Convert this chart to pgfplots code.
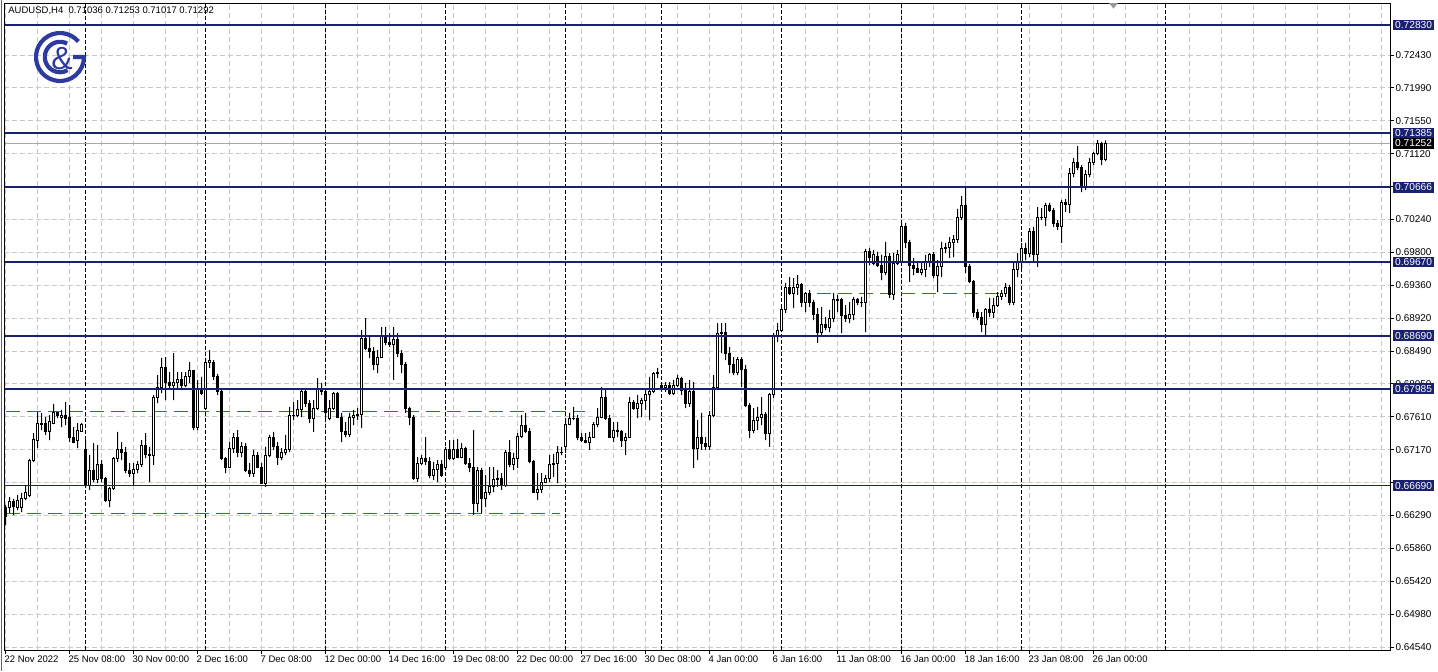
\documentclass[border=0pt]{standalone}
\usepackage{pgfplots}
\pgfplotsset{compat=1.18}
\usepackage{pgfplotstable}
\usepackage{fontspec}
\setmainfont{Liberation Sans}
\definecolor{navy}{RGB}{25,33,112}
\definecolor{gridgray}{RGB}{200,200,200}
\definecolor{lvlgreen}{RGB}{55,125,25}
\definecolor{logoblue}{RGB}{45,58,160}
\newcommand{\tk}{\fontsize{4.75pt}{5.6pt}\selectfont}
\newcommand{\tky}{\fontsize{4.95pt}{5.8pt}\selectfont}
\tikzset{lbl/.style={anchor=west,fill=navy,text=white,font=\fontsize{5.1pt}{6pt}\selectfont,inner xsep=0.9pt,inner ysep=0pt,minimum height=5.2pt,xshift=1.5pt}}

\pgfplotstableread{
i o h l c
0 0.66406 0.66433 0.66166 0.66286
1 0.66393 0.66539 0.66326 0.66486
2 0.66486 0.66513 0.66299 0.66419
3 0.66406 0.66566 0.66366 0.66499
4 0.66393 0.66593 0.66339 0.66526
5 0.66526 0.66686 0.66499 0.66593
6 0.66566 0.67046 0.66539 0.67032
7 0.67032 0.67392 0.67006 0.67312
8 0.67299 0.67672 0.67192 0.67525
9 0.67512 0.67659 0.67432 0.67525
10 0.67525 0.67605 0.67366 0.67406
11 0.67406 0.67632 0.67299 0.67552
12 0.67525 0.67779 0.67512 0.67659
13 0.67659 0.67672 0.67592 0.67619
14 0.67605 0.67699 0.67472 0.67632
15 0.67632 0.67805 0.67499 0.67592
16 0.67605 0.67765 0.67272 0.67339
17 0.67339 0.67472 0.67259 0.67272
18 0.67299 0.67525 0.67192 0.67432
19 0.67419 0.67525 0.67406 0.67512
20 0.67179 0.67299 0.66659 0.66699
21 0.66699 0.67099 0.66633 0.66899
22 0.66899 0.67259 0.66739 0.66766
23 0.66766 0.67232 0.66726 0.66979
24 0.66979 0.67032 0.66739 0.66792
25 0.66792 0.66806 0.66473 0.66499
26 0.66499 0.66673 0.66406 0.66659
27 0.66659 0.67072 0.66633 0.67046
28 0.67046 0.67406 0.67006 0.67166
29 0.67166 0.67272 0.67032 0.67139
30 0.67139 0.67206 0.66859 0.66886
31 0.66886 0.66992 0.66806 0.66859
32 0.66859 0.66992 0.66699 0.66912
33 0.66912 0.67019 0.66859 0.66966
34 0.66966 0.67299 0.66939 0.67232
35 0.67232 0.67392 0.67059 0.67112
36 0.67112 0.67206 0.66739 0.67086
37 0.67086 0.67899 0.66966 0.67872
38 0.67872 0.68165 0.67792 0.68005
39 0.68005 0.68392 0.67925 0.68259
40 0.68259 0.68405 0.67832 0.68059
41 0.68059 0.68205 0.67992 0.68019
42 0.68019 0.68458 0.67832 0.68072
43 0.68072 0.68205 0.67992 0.68112
44 0.68112 0.68205 0.67965 0.68032
45 0.68032 0.68205 0.68005 0.68139
46 0.68139 0.68338 0.68059 0.68219
47 0.68219 0.68232 0.67432 0.67472
48 0.67472 0.68099 0.67432 0.67992
49 0.67992 0.68139 0.67899 0.67925
50 0.67725 0.68392 0.67699 0.68338
51 0.68338 0.68498 0.68259 0.68352
52 0.68338 0.68365 0.68099 0.68152
53 0.68152 0.68179 0.67899 0.67939
54 0.67939 0.67965 0.67032 0.67046
55 0.67046 0.67072 0.66859 0.66939
56 0.66939 0.67272 0.66926 0.67192
57 0.67192 0.67392 0.67126 0.67339
58 0.67339 0.67432 0.67072 0.67126
59 0.67126 0.67272 0.67072 0.67206
60 0.67206 0.67259 0.66872 0.66899
61 0.66899 0.66992 0.66806 0.66846
62 0.66846 0.67166 0.66806 0.67099
63 0.67099 0.67139 0.66926 0.66939
64 0.66939 0.66992 0.66713 0.66726
65 0.66726 0.67206 0.66673 0.67099
66 0.67099 0.67366 0.67072 0.67326
67 0.67326 0.67406 0.67166 0.67206
68 0.67206 0.67272 0.66966 0.67072
69 0.67072 0.67192 0.67032 0.67126
70 0.67126 0.67366 0.67099 0.67166
71 0.67166 0.67739 0.67139 0.67619
72 0.67619 0.67805 0.67565 0.67632
73 0.67632 0.67832 0.67605 0.67699
74 0.67699 0.67992 0.67605 0.67952
75 0.67952 0.67992 0.67739 0.67792
76 0.67792 0.67832 0.67525 0.67592
77 0.67592 0.67832 0.67406 0.67725
78 0.67725 0.68125 0.67699 0.67992
79 0.67992 0.68059 0.67899 0.67939
80 0.67939 0.67992 0.67592 0.67672
81 0.67592 0.67832 0.67565 0.67725
82 0.67725 0.67939 0.67699 0.67925
83 0.67925 0.67939 0.67592 0.67605
84 0.67605 0.67659 0.67272 0.67406
85 0.67406 0.67539 0.67339 0.67379
86 0.67379 0.67659 0.67339 0.67605
87 0.67605 0.67699 0.67499 0.67632
88 0.67632 0.67725 0.67565 0.67645
89 0.67645 0.68765 0.67459 0.68658
90 0.68658 0.68925 0.68498 0.68525
91 0.68525 0.68672 0.68392 0.68472
92 0.68472 0.68538 0.68232 0.68299
93 0.68299 0.68498 0.68192 0.68405
94 0.68405 0.68805 0.68392 0.68672
95 0.68672 0.68805 0.68565 0.68592
96 0.68592 0.68725 0.68538 0.68578
97 0.68578 0.68805 0.68099 0.68632
98 0.68632 0.68725 0.68405 0.68458
99 0.68458 0.68498 0.68192 0.68299
100 0.68299 0.68338 0.67659 0.67725
101 0.67725 0.67739 0.67499 0.67605
102 0.67605 0.67632 0.66766 0.66792
103 0.66792 0.67072 0.66739 0.66992
104 0.66992 0.67099 0.66966 0.67059
105 0.67059 0.67339 0.66966 0.67006
106 0.67006 0.67072 0.66792 0.66832
107 0.66832 0.67006 0.66766 0.66912
108 0.66912 0.67032 0.66739 0.66979
109 0.66979 0.67032 0.66806 0.66832
110 0.66926 0.67206 0.66899 0.67166
111 0.67166 0.67299 0.67032 0.67059
112 0.67059 0.67299 0.67032 0.67166
113 0.67166 0.67312 0.67059 0.67072
114 0.67072 0.67259 0.67059 0.67192
115 0.67192 0.67206 0.66966 0.66992
116 0.66992 0.67059 0.66872 0.66926
117 0.66926 0.67432 0.66299 0.66459
118 0.66459 0.66939 0.66339 0.66899
119 0.66899 0.66926 0.66326 0.66513
120 0.66513 0.66832 0.66406 0.66606
121 0.66606 0.66939 0.66566 0.66673
122 0.66673 0.66939 0.66606 0.66766
123 0.66766 0.66899 0.66673 0.66792
124 0.66792 0.66859 0.66633 0.66699
125 0.66699 0.67166 0.66673 0.67126
126 0.67126 0.67299 0.66939 0.66966
127 0.66966 0.67126 0.66899 0.67059
128 0.67059 0.67392 0.66926 0.67352
129 0.67352 0.67632 0.67326 0.67499
130 0.67499 0.67659 0.67392 0.67419
131 0.67419 0.67459 0.66992 0.67006
132 0.67006 0.67032 0.66593 0.66606
133 0.66606 0.66859 0.66499 0.66646
134 0.66646 0.66859 0.66593 0.66739
135 0.66739 0.66832 0.66726 0.66792
136 0.66792 0.67099 0.66739 0.66966
137 0.66966 0.67112 0.66806 0.66992
138 0.66992 0.67219 0.66726 0.67126
139 0.67126 0.67206 0.67099 0.67139
140 0.67206 0.67592 0.67126 0.67512
141 0.67512 0.67659 0.67499 0.67592
142 0.67592 0.67739 0.67565 0.67579
143 0.67592 0.67632 0.67299 0.67339
144 0.67339 0.67392 0.67272 0.67286
145 0.67299 0.67392 0.67259 0.67272
146 0.67272 0.67406 0.67166 0.67339
147 0.67339 0.67539 0.67326 0.67512
148 0.67512 0.67725 0.67472 0.67605
149 0.67605 0.68005 0.67592 0.67859
150 0.67859 0.67992 0.67565 0.67592
151 0.67592 0.67632 0.67326 0.67339
152 0.67339 0.67539 0.67272 0.67432
153 0.67432 0.67539 0.67339 0.67406
154 0.67406 0.67432 0.67206 0.67299
155 0.67299 0.67392 0.67099 0.67339
156 0.67339 0.67872 0.67326 0.67805
157 0.67805 0.67832 0.67699 0.67725
158 0.67725 0.67899 0.67592 0.67779
159 0.67779 0.67859 0.67605 0.67832
160 0.67832 0.67992 0.67699 0.67899
161 0.67899 0.68139 0.67565 0.67939
162 0.67939 0.68205 0.67925 0.68179
163 0.68205 0.68259 0.68125 0.68179
164 0.68032 0.68072 0.67965 0.68005
165 0.68005 0.68072 0.67939 0.68019
166 0.68019 0.68072 0.67899 0.67925
167 0.67925 0.68099 0.67899 0.68019
168 0.68019 0.68165 0.68005 0.68125
169 0.68125 0.68139 0.67899 0.67965
170 0.67965 0.68059 0.67725 0.67792
171 0.67792 0.68099 0.67739 0.67939
172 0.67939 0.68072 0.66926 0.67192
173 0.67192 0.67565 0.67032 0.67326
174 0.67326 0.67659 0.67166 0.67259
175 0.67259 0.67339 0.67166 0.67206
176 0.67206 0.67685 0.67166 0.67632
177 0.67632 0.68165 0.67605 0.68005
178 0.68005 0.68858 0.67992 0.68725
179 0.68725 0.68858 0.68458 0.68738
180 0.68738 0.68858 0.68365 0.68458
181 0.68458 0.68538 0.68192 0.68299
182 0.68299 0.68405 0.68165 0.68205
183 0.68205 0.68405 0.68165 0.68378
184 0.68378 0.68405 0.68005 0.68245
185 0.68245 0.68299 0.67739 0.67765
186 0.67765 0.67792 0.67326 0.67432
187 0.67432 0.67725 0.67392 0.67565
188 0.67565 0.67739 0.67432 0.67605
189 0.67605 0.67872 0.67499 0.67645
190 0.67645 0.67672 0.67299 0.67392
191 0.67392 0.67925 0.67206 0.67899
192 0.67899 0.68725 0.67859 0.68698
193 0.68698 0.68858 0.68605 0.68765
194 0.68765 0.69058 0.68738 0.69045
195 0.69045 0.69391 0.68992 0.69338
196 0.69338 0.69471 0.69232 0.69258
197 0.69258 0.69458 0.69058 0.69325
198 0.69325 0.69498 0.69232 0.69365
199 0.69365 0.69391 0.69072 0.69125
200 0.69125 0.69271 0.69005 0.69258
201 0.69258 0.69298 0.69072 0.69125
202 0.69125 0.69165 0.68898 0.68978
203 0.68978 0.69058 0.68592 0.68738
204 0.68738 0.69072 0.68698 0.68845
205 0.68845 0.68938 0.68765 0.68792
206 0.68792 0.69032 0.68738 0.68912
207 0.68912 0.69258 0.68872 0.69165
208 0.69152 0.69232 0.69005 0.69165
209 0.69165 0.69192 0.68725 0.68965
210 0.68965 0.69098 0.68872 0.68925
211 0.68925 0.69138 0.68858 0.68978
212 0.68978 0.69205 0.68898 0.69165
213 0.69165 0.69192 0.69098 0.69138
214 0.69138 0.69205 0.69072 0.69125
215 0.69125 0.69845 0.68738 0.69805
216 0.69805 0.69858 0.69631 0.69738
217 0.69658 0.69831 0.69631 0.69765
218 0.69751 0.69805 0.69605 0.69631
219 0.69631 0.69765 0.69431 0.69525
220 0.69525 0.69938 0.69498 0.69751
221 0.69751 0.69791 0.69192 0.69232
222 0.69232 0.69791 0.69165 0.69658
223 0.69658 0.69831 0.69631 0.69765
224 0.69671 0.70191 0.69658 0.70151
225 0.70151 0.70191 0.69858 0.69925
226 0.69925 0.69965 0.69405 0.69631
227 0.69631 0.69725 0.69498 0.69591
228 0.69591 0.69658 0.69525 0.69538
229 0.69538 0.69658 0.69498 0.69565
230 0.69565 0.69765 0.69471 0.69671
231 0.69671 0.69791 0.69605 0.69765
232 0.69765 0.69805 0.69458 0.69498
233 0.69498 0.69698 0.69271 0.69605
234 0.69605 0.69938 0.69471 0.69858
235 0.69858 0.69925 0.69791 0.69871
236 0.69871 0.70004 0.69725 0.69925
237 0.69925 0.70031 0.69738 0.69965
238 0.69965 0.70378 0.69925 0.70258
239 0.70258 0.70551 0.70231 0.70431
240 0.70431 0.70658 0.69525 0.69605
241 0.69605 0.69645 0.69391 0.69405
242 0.69405 0.69431 0.68938 0.68992
243 0.68992 0.69045 0.68898 0.68938
244 0.68938 0.69005 0.68738 0.68832
245 0.68832 0.69058 0.68698 0.69032
246 0.69032 0.69192 0.68938 0.68992
247 0.68992 0.69192 0.68925 0.69098
248 0.69098 0.69271 0.69072 0.69205
249 0.69205 0.69298 0.69165 0.69258
250 0.69258 0.69391 0.69205 0.69325
251 0.69325 0.69365 0.69098 0.69125
252 0.69125 0.69671 0.69098 0.69578
253 0.69578 0.69791 0.69471 0.69671
254 0.69671 0.69925 0.69591 0.69858
255 0.69858 0.69925 0.69698 0.69791
256 0.69791 0.70124 0.69738 0.70084
257 0.70084 0.70138 0.69671 0.69765
258 0.69765 0.70404 0.69605 0.70258
259 0.70258 0.70391 0.70231 0.70271
260 0.70271 0.70458 0.70151 0.70431
261 0.70431 0.70458 0.70338 0.70364
262 0.70364 0.70391 0.70138 0.70178
263 0.70178 0.70231 0.70098 0.70151
264 0.70151 0.70498 0.69925 0.70458
265 0.70458 0.70511 0.70338 0.70444
266 0.70444 0.70924 0.70324 0.70857
267 0.70857 0.71057 0.70804 0.71004
268 0.71004 0.71217 0.70897 0.70937
269 0.70937 0.70964 0.70604 0.70671
270 0.70671 0.70897 0.70631 0.70831
271 0.70831 0.71057 0.70804 0.70991
272 0.70991 0.71137 0.70964 0.71124
273 0.71124 0.71297 0.71097 0.71257
274 0.71257 0.71271 0.70964 0.71031
275 0.71036 0.71292 0.71017 0.71252
}\candles

\pgfplotsset{base/.style={at={(2pt,-1.5pt)},anchor=north west,scale only axis,
  width=693pt,height=323.5pt,xmin=-0.425,xmax=346.075,ymin=0.645,ymax=0.731232}}

\begin{document}
\begin{tikzpicture}
\path[use as bounding box] (0,0) rectangle (719pt,-335.5pt);
% background: grid, ticks, labels, separators, dashed levels
\begin{axis}[base, axis line style={draw=none},
  tick align=outside, major tick length=2pt, minor tick length=0pt,
  tick style={black,line width=0.5pt},
  xtick pos=left, ytick pos=right, yticklabel pos=right,
  xtick={0,16,...,272},
  xticklabels={22 Nov 2022,25 Nov 08:00,30 Nov 00:00,2 Dec 16:00,7 Dec 08:00,12 Dec 00:00,14 Dec 16:00,19 Dec 08:00,22 Dec 00:00,27 Dec 16:00,30 Dec 08:00,4 Jan 00:00,6 Jan 16:00,11 Jan 08:00,16 Jan 00:00,18 Jan 16:00,23 Jan 08:00,26 Jan 00:00},
  minor xtick={8,24,40,56,72,88,104,120,136,152,168,184,200,216,232,248,264,280,288,296,304,312,320,328,336,344},
  ytick={0.6454,0.649783,0.654167,0.65855,0.662933,0.667317,0.6717,0.676083,0.680467,0.68485,0.689233,0.693617,0.698,0.702383,0.706767,0.71115,0.715533,0.719917,0.7243},
  yticklabels={0.64540,0.64980,0.65420,0.65860,0.66290,{},0.67170,0.67610,0.68050,0.68490,0.68920,0.69360,0.69800,0.70240,{},0.71120,0.71550,0.71990,0.72430},
  grid=both,
  major grid style={gridgray,line width=0.5pt,dash pattern=on 2.5pt off 1.5pt},
  minor grid style={gridgray,line width=0.5pt,dash pattern=on 2.5pt off 1.5pt},
  xticklabel style={font=\tk,anchor=north west,inner sep=0pt,xshift=-0.75pt,yshift=-0.8pt},
  yticklabel style={font=\tky,anchor=west,inner sep=0.6pt},
]
\pgfplotsinvokeforeach{20,50,80,110,140,164,194,224,254,290}{
  \addplot[black,line width=0.5pt,dash pattern=on 2pt off 1pt,forget plot] coordinates {(#1,0.645) (#1,0.731232)};
}
\addplot[lvlgreen,line width=0.5pt,dash pattern=on 7pt off 3.5pt,forget plot] coordinates {(0,0.67685) (144.8,0.67685)};
\addplot[lvlgreen,line width=0.5pt,dash pattern=on 7pt off 3.5pt,forget plot] coordinates {(0,0.66326) (138.6,0.66326)};
\addplot[lvlgreen,line width=0.5pt,dash pattern=on 7pt off 3.5pt,forget plot] coordinates {(202.8,0.69258) (249,0.69258)};
\addplot[black!35,line width=0.5pt,forget plot] coordinates {(-0.425,0.71252) (346.075,0.71252)};
\end{axis}
% wicks
\begin{axis}[base, hide axis, ybar stacked, bar width=0.5pt]
\addplot[draw=none,fill=none] table[x=i,y=l]{\candles};
\addplot[draw=none,fill=black] table[x=i,y expr=\thisrow{h}-\thisrow{l}]{\candles};
\end{axis}
% bodies
\begin{axis}[base, hide axis, ybar stacked, bar width=1pt]
\addplot[draw=none,fill=none] table[x=i,y expr={min(\thisrow{o},\thisrow{c})}]{\candles};
\addplot[draw=black,fill=white,line width=0.5pt] table[x=i,y expr={max(\thisrow{c}-\thisrow{o},0)}]{\candles};
\addplot[draw=black,fill=black,line width=0.5pt] table[x=i,y expr={max(\thisrow{o}-\thisrow{c},0)}]{\candles};
\end{axis}
% level lines and labels
\begin{axis}[base, hide axis, clip=false]
\pgfplotsinvokeforeach{0.72830,0.71385,0.70666,0.69670,0.68690,0.67985}{
  \addplot[navy,line width=1pt,forget plot] coordinates {(-0.425,#1) (346.075,#1)};
}
\addplot[navy,line width=0.5pt,forget plot] coordinates {(-0.425,0.66690) (346.075,0.66690)};
\node[lbl] at (axis cs:346.075,0.72830) {0.72830};
\node[lbl] at (axis cs:346.075,0.71385) {0.71385};
\node[lbl] at (axis cs:346.075,0.70666) {0.70666};
\node[lbl] at (axis cs:346.075,0.69670) {0.69670};
\node[lbl] at (axis cs:346.075,0.68690) {0.68690};
\node[lbl] at (axis cs:346.075,0.67985) {0.67985};
\node[lbl] at (axis cs:346.075,0.66690) {0.66690};
\node[lbl,fill=black] at (axis cs:346.075,0.71252) {0.71252};
\node[anchor=west,font=\tk,inner sep=0pt] at (rel axis cs:0,1) [xshift=2pt,yshift=-4pt] {AUDUSD,H4\ \ 0.71036 0.71253 0.71017 0.71292};
\end{axis}
% frame
\draw[black,line width=0.5pt] (2pt,-1.5pt) rectangle (695pt,-325pt);
\draw[black!60,line width=0.4pt] (0.6pt,0) -- (0.6pt,-335.5pt);
% shift marker
\fill[black!40] (554.5pt,-1.5pt) -- (559pt,-1.5pt) -- (556.75pt,-4.3pt) -- cycle;
% logo
\begin{scope}[logoblue,line width=2.1pt]
\draw (30pt,-28.5pt) ++(40:12pt) arc[start angle=40,end angle=360,radius=12pt] -- ++(-5.5pt,0);
\draw (30pt,-28.5pt) ++(62:7.6pt) arc[start angle=62,end angle=300,radius=7.6pt];
\node[text=logoblue,font=\fontsize{16pt}{16pt}\selectfont,inner sep=0pt] at (31pt,-29.3pt) {\&};
\end{scope}
\end{tikzpicture}
\end{document}
